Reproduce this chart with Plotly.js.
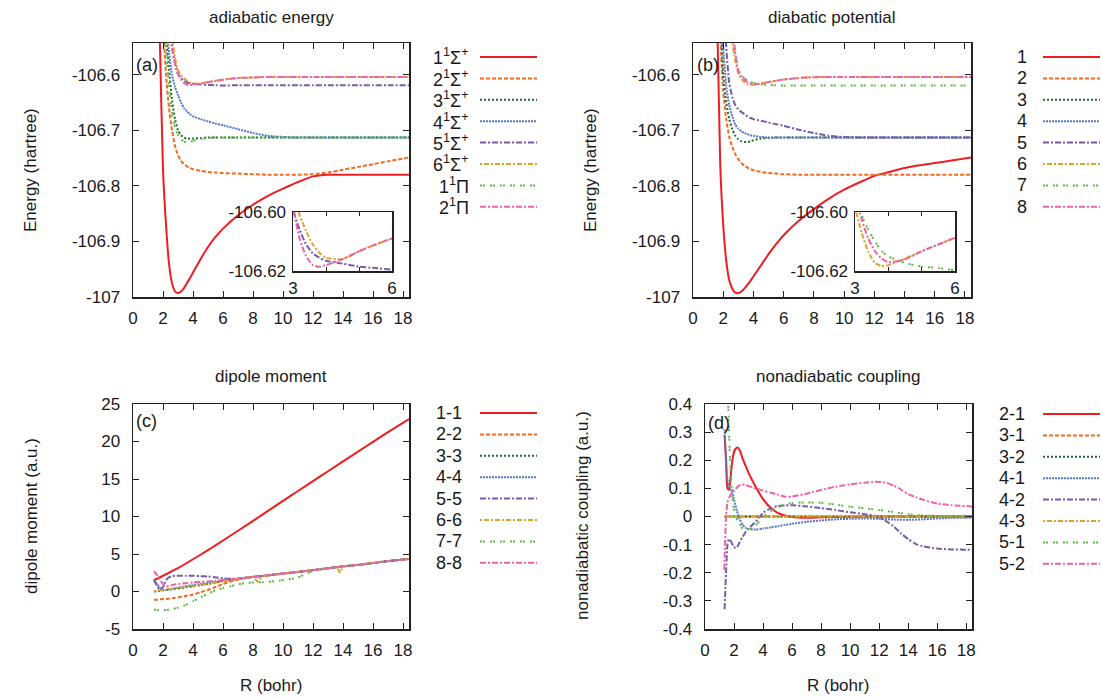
<!DOCTYPE html>
<html><head><meta charset="utf-8">
<script src="https://cdn.plot.ly/plotly-3.0.1.min.js"></script>
<style>html,body{margin:0;padding:0;background:#fff}#chart{width:1102px;height:698px}</style>
</head><body><div id="chart"></div>
<script>
// ---------- panel (a): adiabatic energy (hartree) ----------
const Ra = [1.6,1.8,2.0,2.2,2.4,2.6,2.8,3.0,3.2,3.4,3.6,3.8,4.0,4.5,5,5.5,6,7,8,9,10,11,12,13,14,15,16,17,18.4];
const a1 = [-106.30,-106.55,-106.77,-106.87,-106.94,-106.975,-106.99,-106.993,-106.99,-106.984,-106.975,-106.966,-106.956,-106.932,-106.91,-106.892,-106.877,-106.853,-106.834,-106.818,-106.805,-106.793,-106.783,-106.78,-106.78,-106.78,-106.78,-106.78,-106.78];
const a2 = [-106.10,-106.35,-106.50,-106.60,-106.66,-106.70,-106.728,-106.745,-106.755,-106.761,-106.765,-106.768,-106.770,-106.773,-106.775,-106.776,-106.777,-106.778,-106.779,-106.78,-106.78,-106.78,-106.779,-106.776,-106.771,-106.766,-106.761,-106.756,-106.749];
const a3 = [-106.00,-106.30,-106.45,-106.53,-106.59,-106.645,-106.68,-106.70,-106.709,-106.713,-106.715,-106.715,-106.715,-106.714,-106.713,-106.713,-106.713,-106.713,-106.713,-106.713,-106.713,-106.713,-106.713,-106.713,-106.713,-106.713,-106.713,-106.713,-106.713];
const a4 = [-106.00,-106.20,-106.40,-106.50,-106.56,-106.60,-106.622,-106.637,-106.65,-106.66,-106.666,-106.671,-106.675,-106.68,-106.684,-106.688,-106.691,-106.698,-106.705,-106.71,-106.712,-106.713,-106.713,-106.713,-106.713,-106.713,-106.713,-106.713,-106.713];
const a5 = [-106.10,-106.20,-106.30,-106.42,-106.50,-106.55,-106.58,-106.599,-106.606,-106.611,-106.614,-106.6155,-106.6165,-106.6175,-106.6185,-106.619,-106.6195,-106.619,-106.619,-106.619,-106.619,-106.619,-106.619,-106.619,-106.619,-106.619,-106.619,-106.619,-106.619];
const a6 = [-106.05,-106.15,-106.25,-106.38,-106.47,-106.53,-106.57,-106.592,-106.601,-106.6065,-106.611,-106.6138,-106.6155,-106.616,-106.6133,-106.611,-106.609,-106.606,-106.605,-106.604,-106.604,-106.604,-106.604,-106.604,-106.604,-106.604,-106.604,-106.604,-106.604];
const a7 = [-106.20,-106.35,-106.45,-106.55,-106.62,-106.67,-106.695,-106.708,-106.716,-106.72,-106.722,-106.721,-106.719,-106.716,-106.714,-106.713,-106.713,-106.713,-106.713,-106.713,-106.713,-106.713,-106.713,-106.713,-106.713,-106.713,-106.713,-106.713,-106.713];
const a8 = [-106.10,-106.20,-106.30,-106.42,-106.50,-106.55,-106.58,-106.598,-106.609,-106.615,-106.618,-106.6186,-106.618,-106.616,-106.6133,-106.611,-106.609,-106.606,-106.605,-106.604,-106.604,-106.604,-106.604,-106.604,-106.604,-106.604,-106.604,-106.604,-106.604];

// ---------- panel (b): diabatic potential (hartree) ----------
const Rb = [1.6,1.8,2.0,2.2,2.4,2.6,2.8,3.0,3.2,3.4,3.6,3.8,4.0,4.5,5,5.5,6,7,8,9,10,11,12,13,14,15,16,17,18.4];
const b1 = [-106.50,-106.76,-106.87,-106.935,-106.97,-106.985,-106.992,-106.993,-106.99,-106.985,-106.978,-106.971,-106.963,-106.943,-106.923,-106.905,-106.889,-106.863,-106.842,-106.823,-106.807,-106.794,-106.782,-106.775,-106.768,-106.763,-106.759,-106.755,-106.749];
const b2 = [-106.30,-106.52,-106.63,-106.68,-106.712,-106.73,-106.743,-106.752,-106.759,-106.764,-106.767,-106.77,-106.772,-106.775,-106.777,-106.778,-106.779,-106.78,-106.78,-106.78,-106.78,-106.78,-106.78,-106.78,-106.78,-106.78,-106.78,-106.78,-106.78];
const b3 = [-106.20,-106.45,-106.60,-106.65,-106.68,-106.698,-106.71,-106.716,-106.72,-106.721,-106.721,-106.72,-106.718,-106.715,-106.714,-106.713,-106.713,-106.713,-106.713,-106.713,-106.713,-106.713,-106.713,-106.713,-106.713,-106.713,-106.713,-106.713,-106.713];
const b4 = [-106.10,-106.40,-106.55,-106.62,-106.655,-106.675,-106.69,-106.697,-106.702,-106.705,-106.707,-106.709,-106.71,-106.712,-106.713,-106.713,-106.713,-106.713,-106.713,-106.713,-106.713,-106.713,-106.713,-106.713,-106.713,-106.713,-106.713,-106.713,-106.713];
const b5 = [-106.00,-106.30,-106.45,-106.55,-106.615,-106.64,-106.655,-106.662,-106.667,-106.671,-106.675,-106.678,-106.68,-106.683,-106.686,-106.689,-106.692,-106.699,-106.705,-106.71,-106.712,-106.713,-106.713,-106.713,-106.713,-106.713,-106.713,-106.713,-106.713];
const b6 = [-106.05,-106.15,-106.25,-106.38,-106.48,-106.54,-106.575,-106.598,-106.607,-106.6135,-106.6173,-106.6183,-106.618,-106.6158,-106.6133,-106.611,-106.6088,-106.606,-106.6045,-106.604,-106.604,-106.604,-106.604,-106.604,-106.604,-106.604,-106.604,-106.604,-106.604];
const b7 = [-106.05,-106.10,-106.20,-106.35,-106.45,-106.52,-106.565,-106.59,-106.601,-106.606,-106.61,-106.6133,-106.615,-106.6173,-106.6185,-106.619,-106.6197,-106.6195,-106.6195,-106.6195,-106.6195,-106.6195,-106.6195,-106.6195,-106.6195,-106.6195,-106.6195,-106.6195,-106.6195];
const b8 = [-106.05,-106.10,-106.20,-106.33,-106.44,-106.51,-106.56,-106.594,-106.6025,-106.609,-106.6133,-106.6158,-106.617,-106.616,-106.6133,-106.611,-106.6088,-106.606,-106.6045,-106.604,-106.604,-106.604,-106.604,-106.604,-106.604,-106.604,-106.604,-106.604,-106.604];

// ---------- panel (c): dipole moment (a.u.) ----------
const Rc = [1.4,1.6,1.8,2.0,2.2,2.4,2.6,2.8,3.0,3.5,4,4.5,5,5.5,6,7,8,9,10,11,12,13,14,15,16,17,18.4];
const c1 = [1.5,1.7,1.9,2.1,2.3,2.5,2.71,2.92,3.13,3.7,4.3,4.9,5.52,6.15,6.8,8.1,9.42,10.75,12.08,13.4,14.72,16.03,17.34,18.65,19.95,21.25,23.0];
const c2 = [-1.1,-1.1,-1.05,-1.0,-1.0,-0.95,-0.9,-0.85,-0.8,-0.6,-0.4,-0.1,0.2,0.6,1.0,1.6,1.95,2.15,2.4,2.6,2.85,3.1,3.35,3.55,3.8,4.05,4.35];
const c3 = [0.0,0.05,0.1,0.15,0.2,0.25,0.3,0.35,0.4,0.55,0.7,0.85,1.0,1.2,1.4,1.7,1.95,2.15,2.4,2.6,2.85,3.1,3.35,3.55,3.8,4.05,4.35];
const c4 = [1.5,1.0,0.5,0.2,0.2,0.3,0.38,0.45,0.5,0.7,0.85,1.0,1.15,1.3,1.45,1.7,1.95,2.15,2.4,2.6,2.85,3.1,3.35,3.55,3.8,4.05,4.35];
const c5 = [1.5,0.8,0.15,0.6,1.5,1.9,2.05,2.1,2.1,2.1,2.1,2.05,2.0,1.9,1.75,1.7,1.95,2.15,2.4,2.6,2.85,3.1,3.35,3.55,3.8,4.05,4.35];
const Rc6 = [1.4,1.6,1.8,2.0,2.2,2.4,2.6,2.8,3.0,3.5,4,4.5,5,5.5,6,7,8,8.3,8.6,9,10,11,12,13,13.6,13.8,14,15,16,17,18.4];
const c6 = [0.05,0.1,0.12,0.15,0.2,0.25,0.3,0.35,0.4,0.55,0.7,0.85,1.0,1.2,1.4,1.7,1.95,1.3,2.0,2.15,2.4,2.6,2.85,3.1,3.25,2.5,3.35,3.55,3.8,4.05,4.35];
const Rc7 = [1.4,1.7,2.0,2.5,3.0,3.5,4.0,4.5,5.0,5.5,6,6.5,7,7.6,8.7,9.8,10.9,11.8,12.3,13,14,15,16,17,18.4];
const c7 = [-2.4,-2.5,-2.5,-2.4,-2.15,-1.8,-1.3,-0.8,-0.3,0.15,0.45,0.7,0.95,1.15,1.25,1.47,1.82,2.58,2.95,3.1,3.35,3.55,3.8,4.05,4.35];
const c8 = [2.7,2.2,1.6,1.0,0.7,0.75,0.85,0.95,1.0,1.1,1.2,1.3,1.35,1.45,1.55,1.7,1.95,2.15,2.4,2.6,2.85,3.1,3.35,3.55,3.8,4.05,4.35];

// ---------- panel (d): nonadiabatic coupling (a.u.) ----------
const Rd1 = [1.35,1.45,1.55,1.65,1.8,1.95,2.1,2.25,2.4,2.6,2.8,3.0,3.5,4,4.5,5,5.5,6,7,8,9,10,12,14,16,18.4];
const d1 = [0.29,0.2,0.1,0.095,0.16,0.22,0.24,0.245,0.235,0.205,0.18,0.155,0.105,0.062,0.032,0.013,0.004,-0.002,-0.004,-0.003,-0.002,-0.001,0,0,0,0];
const Rz = [1.35,4,8,12,16,18.4];
const d2 = [0,0,0,0,0,0];
const d3 = [0,0,0,0,0,0];
const Rd4 = [1.35,1.4,1.45,1.55,1.7,1.85,2.0,2.2,2.4,2.6,2.8,3.0,3.5,4,4.5,5,5.5,6,7,8,9,10,11,12,13,14,15,16,17,18.4];
const d4 = [0.31,0.25,0.2,0.13,0.1,0.09,0.06,0.02,-0.01,-0.03,-0.04,-0.045,-0.046,-0.043,-0.039,-0.035,-0.03,-0.026,-0.019,-0.014,-0.01,-0.008,-0.007,-0.008,-0.011,-0.012,-0.01,-0.007,-0.005,-0.004];
const Rd5 = [1.35,1.45,1.55,1.65,1.8,1.95,2.1,2.2,2.4,2.6,2.8,3.0,3.5,4,4.5,5,5.5,6,7,8,9,10,11,11.8,12.5,13,13.5,14,14.5,15,16,17,18.4];
const d5 = [-0.33,-0.2,-0.1,-0.08,-0.09,-0.105,-0.112,-0.11,-0.09,-0.072,-0.055,-0.042,-0.018,0.013,0.028,0.037,0.039,0.04,0.036,0.03,0.023,0.015,0.008,0.001,-0.017,-0.035,-0.06,-0.08,-0.097,-0.106,-0.114,-0.117,-0.118];
const d6 = [0,0,0,0,0,0];
const Rd7 = [1.5,1.6,1.65,1.75,1.85,1.95,2.1,2.4,2.6,3.0,3.3,3.6,4.0,4.5,5.0,5.5,6,7,8,9,10,11,12,13,14,15,16,17,18.4];
const d7 = [0.5,0.4,0.3,0.18,0.09,0.04,0.0,-0.025,-0.045,-0.045,-0.04,-0.025,-0.002,0.018,0.032,0.042,0.048,0.05,0.049,0.042,0.035,0.029,0.023,0.016,0.008,0.004,0.002,0.001,0.0];
const Rd8 = [1.33,1.38,1.45,1.55,1.72,1.9,2.07,2.3,2.53,2.8,3.0,3.33,4,4.5,5,5.6,6,6.8,7.5,8.4,9,10,11,11.6,12,12.5,13,13.5,14,14.6,15,16,17,18.4];
const d8 = [-0.19,-0.1,0.0,0.05,0.073,0.088,0.096,0.108,0.114,0.112,0.108,0.102,0.092,0.085,0.078,0.07,0.071,0.079,0.088,0.099,0.106,0.114,0.12,0.123,0.123,0.12,0.11,0.096,0.08,0.067,0.06,0.046,0.04,0.036];

// ---------- text ----------
const labelsA = ['1<sup>1</sup>Σ<sup>+</sup>','2<sup>1</sup>Σ<sup>+</sup>','3<sup>1</sup>Σ<sup>+</sup>','4<sup>1</sup>Σ<sup>+</sup>','5<sup>1</sup>Σ<sup>+</sup>','6<sup>1</sup>Σ<sup>+</sup>','1<sup>1</sup>Π','2<sup>1</sup>Π'];
const labelsB = ['1','2','3','4','5','6','7','8'];
const labelsC = ['1-1','2-2','3-3','4-4','5-5','6-6','7-7','8-8'];
const labelsD = ['2-1','3-1','3-2','4-1','4-2','4-3','5-1','5-2'];
const xTicks = [0,2,4,6,8,10,12,14,16,18];
const yTicksA = [-107,-106.9,-106.8,-106.7,-106.6];
const yTextA = ['-107','-106.9','-106.8','-106.7','-106.6'];
const yTicksC = [-5,0,5,10,15,20,25];
const yTextC = ['-5','0','5','10','15','20','25'];
const yTicksD = [-0.4,-0.3,-0.2,-0.1,0,0.1,0.2,0.3,0.4];
const yTextD = ['-0.4','-0.3','-0.2','-0.1','0','0.1','0.2','0.3','0.4'];
const insetXTicks = [3,4,5,6];
const insetXText = ['3','','','6'];
const insetYTicks = [-106.62,-106.60];
const insetYText = ['-106.62','-106.60'];

// ---------- styles ----------
const W = 1102, H = 698;
const px = x => x / W, py = y => 1 - y / H;
const FONT = 'Liberation Sans, Arial, Helvetica, sans-serif';
const TXT = '#1a1a1a';
const colors = ['#ee1d23','#f36a1f','#1b6e2e','#5a78c8','#7a5bab','#dca42a','#62b847','#ee62a8'];
const dashes = ['solid','4px,2px','2px,2px','2px,1px','6px,2px,2px,2px','2px,2px,5px,2px','2px,1px,2px,5px','6px,2px,2px,2px'];

function tr(x, y, i, xa, ya, shape) {
  return {x: x, y: y, type: 'scatter', mode: 'lines', xaxis: xa, yaxis: ya,
    line: {color: colors[i], dash: dashes[i], width: 2, shape: shape || 'spline', smoothing: 0.6},
    showlegend: false, hoverinfo: 'skip'};
}

const A = [a1,a2,a3,a4,a5,a6,a7,a8];
const B = [b1,b2,b3,b4,b5,b6,b7,b8];
const traces = [];
A.forEach((v,i) => traces.push(tr(Ra, v, i, 'x', 'y')));
B.forEach((v,i) => traces.push(tr(Rb, v, i, 'x2', 'y2')));
const Cx = [Rc,Rc,Rc,Rc,Rc,Rc6,Rc7,Rc], Cy = [c1,c2,c3,c4,c5,c6,c7,c8];
Cy.forEach((v,i) => traces.push(tr(Cx[i], v, i, 'x3', 'y3', i===5 ? 'linear' : 'spline')));
const Dx = [Rd1,Rz,Rz,Rd4,Rd5,Rz,Rd7,Rd8], Dy = [d1,d2,d3,d4,d5,d6,d7,d8];
Dy.forEach((v,i) => traces.push(tr(Dx[i], v, i, 'x4', 'y4')));
[4,5,7].forEach(i => traces.push(tr(Ra, A[i], i, 'x5', 'y5')));
[5,6,7].forEach(i => traces.push(tr(Rb, B[i], i, 'x6', 'y6')));

const tickFont = {family: FONT, size: 17, color: TXT};
function xax(dom, anchor) {
  return {domain: dom, anchor: anchor, range: [0, 18.4], tickvals: xTicks, ticks: 'inside', ticklen: 6,
    tickcolor: '#222', mirror: 'ticks', showline: true, linecolor: '#222', linewidth: 1.5,
    showgrid: false, zeroline: false, tickfont: tickFont, ticklabelstandoff: 5, fixedrange: true};
}
function yax(dom, anchor, range, tv, tt) {
  return {domain: dom, anchor: anchor, range: range, tickvals: tv, ticktext: tt, ticks: 'inside', ticklen: 6,
    tickcolor: '#222', mirror: 'ticks', showline: true, linecolor: '#222', linewidth: 1.5,
    showgrid: false, zeroline: false, tickfont: tickFont, ticklabelstandoff: 8, fixedrange: true};
}
function insetX(dom, anchor) {
  return {domain: dom, anchor: anchor, range: [3, 6], tickvals: insetXTicks, ticktext: insetXText,
    ticks: 'inside', ticklen: 4, tickcolor: '#222', mirror: 'ticks', showline: true, linecolor: '#222',
    linewidth: 1.5, showgrid: false, zeroline: false, tickfont: tickFont, ticklabelstandoff: 1, fixedrange: true};
}
function insetY(dom, anchor) {
  return {domain: dom, anchor: anchor, range: [-106.62, -106.60], tickvals: insetYTicks, ticktext: insetYText,
    ticks: '', mirror: true, showline: true, linecolor: '#222', linewidth: 1.5, showgrid: false,
    zeroline: false, tickfont: tickFont, ticklabelstandoff: 2, fixedrange: true};
}

const domXa = [px(133), px(409)], domXb = [px(693), px(971)], domXd = [px(705), px(972)];
const domYtop = [py(297), py(43)], domYbot = [py(629), py(404)];

const layout = {
  width: W, height: H, margin: {l: 0, r: 0, t: 0, b: 0}, paper_bgcolor: '#fff', plot_bgcolor: '#fff',
  font: {family: FONT, color: TXT, size: 17}, showlegend: false,
  xaxis: xax(domXa, 'y'), yaxis: yax(domYtop, 'x', [-107, -106.543], yTicksA, yTextA),
  xaxis2: xax(domXb, 'y2'), yaxis2: yax(domYtop, 'x2', [-107, -106.543], yTicksA, yTextA),
  xaxis3: xax(domXa, 'y3'), yaxis3: yax(domYbot, 'x3', [-5, 25], yTicksC, yTextC),
  xaxis4: xax(domXd, 'y4'), yaxis4: yax(domYbot, 'x4', [-0.4, 0.4], yTicksD, yTextD),
  xaxis5: insetX([px(293), px(392)], 'y5'), yaxis5: insetY([py(271), py(212)], 'x5'),
  xaxis6: insetX([px(855), px(955)], 'y6'), yaxis6: insetY([py(271), py(212)], 'x6'),
  shapes: [], annotations: []
};

function ann(text, x, y, opt) {
  return Object.assign({text: text, x: px(x), y: py(y), xref: 'paper', yref: 'paper', showarrow: false,
    xanchor: 'center', yanchor: 'middle', font: {family: FONT, size: 17, color: TXT}}, opt || {});
}
const ann_ = layout.annotations;
ann_.push(ann('adiabatic energy', 271, 18));
ann_.push(ann('diabatic potential', 832, 18));
ann_.push(ann('dipole moment', 271, 376));
ann_.push(ann('nonadiabatic coupling', 838, 376));
ann_.push(ann('R (bohr)', 271, 685));
ann_.push(ann('R (bohr)', 838, 685));
ann_.push(ann('Energy (hartree)', 31, 170, {textangle: -90}));
ann_.push(ann('Energy (hartree)', 591, 170, {textangle: -90}));
ann_.push(ann('dipole moment (a.u.)', 31, 516, {textangle: -90}));
ann_.push(ann('nonadiabatic coupling (a.u.)', 582, 516, {textangle: -90}));
const pl = {xanchor: 'left', font: {family: FONT, size: 18, color: TXT}};
ann_.push(ann('(a)', 134, 65, pl));
ann_.push(ann('(b)', 695, 65, pl));
ann_.push(ann('(c)', 134, 421, pl));
ann_.push(ann('(d)', 706, 423, pl));

function legend(labels, textRight, x0, x1, y0, dy) {
  labels.forEach((lab, i) => {
    const y = y0 + i * dy;
    layout.shapes.push({type: 'line', xref: 'paper', yref: 'paper', x0: px(x0), x1: px(x1), y0: py(y), y1: py(y),
      line: {color: colors[i], dash: dashes[i], width: 2}});
    ann_.push(ann(lab, textRight, y, {xanchor: 'right', font: {family: FONT, size: 18, color: TXT}}));
  });
}
legend(labelsA, 471, 480, 537, 57, 21.4);
legend(labelsB, 1029, 1043, 1100, 57, 21.4);
legend(labelsC, 464, 480, 537, 413, 21.4);
legend(labelsD, 1027, 1043, 1100, 414, 21.4);

Plotly.newPlot('chart', traces, layout, {staticPlot: true, displayModeBar: false});
</script></body></html>
